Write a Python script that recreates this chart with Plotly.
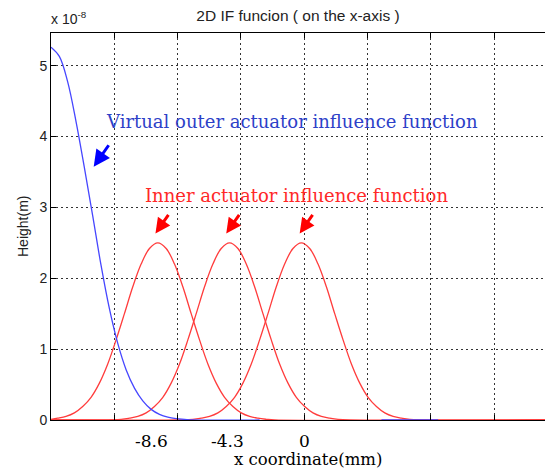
import plotly.graph_objects as go

# ---------------- data ----------------
# x in mm, height in units of 1e-8 m
red1_x = [-15.0, -14.6, -14.1, -13.6, -13.1, -12.6, -12.1, -11.6, -11.1, -10.6, -10.1, -9.6, -9.1,
          -8.6, -8.1, -7.6, -7.1, -6.6, -6.1, -5.6, -5.1, -4.6, -4.1, -3.6, -3.1, -2.6, -2.1, -1.6, 14.6]
red1_y = [0.01, 0.025, 0.05, 0.10, 0.19, 0.32, 0.52, 0.79, 1.13, 1.50, 1.88, 2.20, 2.42,
          2.50, 2.42, 2.20, 1.88, 1.50, 1.13, 0.79, 0.52, 0.32, 0.19, 0.10, 0.05, 0.025, 0.01, 0.0, 0.0]

red2_x = [-15.0, -10.8, -10.3, -9.8, -9.3, -8.8, -8.3, -7.8, -7.3, -6.8, -6.3, -5.8, -5.3, -4.8,
          -4.3, -3.8, -3.3, -2.8, -2.3, -1.8, -1.3, -0.8, -0.3, 0.2, 0.7, 1.2, 1.7, 2.2, 14.6]
red2_y = [0.0, 0.01, 0.025, 0.05, 0.10, 0.19, 0.32, 0.52, 0.79, 1.13, 1.50, 1.88, 2.20, 2.42,
          2.50, 2.42, 2.20, 1.88, 1.50, 1.13, 0.79, 0.52, 0.32, 0.19, 0.10, 0.05, 0.025, 0.01, 0.0]

red3_x = [-15.0, -6.5, -6.0, -5.5, -5.0, -4.5, -4.0, -3.5, -3.0, -2.5, -2.0, -1.5, -1.0, -0.5,
          0.0, 0.5, 1.0, 1.5, 2.0, 2.5, 3.0, 3.5, 4.0, 4.5, 5.0, 5.5, 6.0, 6.5, 14.6]
red3_y = [0.0, 0.01, 0.025, 0.05, 0.10, 0.19, 0.32, 0.52, 0.79, 1.13, 1.50, 1.88, 2.20, 2.42,
          2.50, 2.42, 2.20, 1.88, 1.50, 1.13, 0.79, 0.52, 0.32, 0.19, 0.10, 0.05, 0.025, 0.01, 0.0]

blue_x = [-15.0, -14.5, -14.0, -13.5, -13.0, -12.5, -12.0, -11.5, -11.0, -10.5, -10.0, -9.5,
          -9.0, -8.5, -8.0, -7.5, -7.0, -6.5, -2.5, None, 4.8, 8.2]
blue_y = [5.26, 5.13, 4.77, 4.21, 3.56, 2.88, 2.18, 1.57, 1.08, 0.71, 0.45, 0.27,
          0.15, 0.08, 0.04, 0.02, 0.01, 0.0, 0.0, None, 0.0, 0.0]

tick_labels = ["-8.6", "-4.3", "0"]
tick_label_pos = [-8.98, -4.42, 0.2]

red_arrow_tips_x = [-8.74, -4.5, -0.1]
red_arrow_tip_y = 2.633
blue_arrow_tip = (-12.44, 3.573)

RED = "rgb(255,60,60)"
BLUE = "rgb(70,70,255)"

fig = go.Figure()
for xs, ys in [(red1_x, red1_y), (red2_x, red2_y), (red3_x, red3_y)]:
    fig.add_trace(go.Scatter(x=xs, y=ys, mode="lines",
                             line=dict(color=RED, width=1.3, shape="spline", smoothing=1.0),
                             showlegend=False, hoverinfo="skip"))
fig.add_trace(go.Scatter(x=blue_x, y=blue_y, mode="lines",
                         line=dict(color=BLUE, width=1.3, shape="spline", smoothing=1.0),
                         showlegend=False, hoverinfo="skip", connectgaps=False))

annotations = []
serif = "DejaVu Serif"
sans = "Liberation Sans"

annotations.append(dict(x=-11.8, y=4.21, xref="x", yref="y", xanchor="left", yanchor="middle",
                        text="Virtual outer actuator influence function", showarrow=False,
                        font=dict(family=serif, size=18, color="rgb(45,65,200)")))
annotations.append(dict(x=-9.5, y=3.17, xref="x", yref="y", xanchor="left", yanchor="middle",
                        text="Inner actuator influence function", showarrow=False,
                        font=dict(family=serif, size=18, color="rgb(255,40,40)")))

annotations.append(dict(x=blue_arrow_tip[0], y=blue_arrow_tip[1], xref="x", yref="y", text="",
                        showarrow=True, ax=16, ay=-23, arrowhead=2, arrowsize=1.1,
                        arrowwidth=3, arrowcolor="rgb(0,0,255)", standoff=0))
for tx in red_arrow_tips_x:
    annotations.append(dict(x=tx, y=red_arrow_tip_y, xref="x", yref="y", text="",
                            showarrow=True, ax=14, ay=-20, arrowhead=2, arrowsize=1.0,
                            arrowwidth=3, arrowcolor="rgb(255,0,0)", standoff=0))

for lbl, pos in zip(tick_labels, tick_label_pos):
    annotations.append(dict(x=pos, y=0, xref="x", yref="paper", yshift=-21, text=lbl,
                            showarrow=False, xanchor="center", yanchor="middle",
                            font=dict(family=serif, size=17, color="black")))

annotations.append(dict(x=0.52, y=0, xref="paper", yref="paper", yshift=-39,
                        text="x coordinate(mm)", showarrow=False, xanchor="center", yanchor="middle",
                        font=dict(family=serif, size=16.5, color="black")))
annotations.append(dict(x=-0.0577, y=0.5, xref="paper", yref="paper", text="Height(m)",
                        textangle=-90, showarrow=False, xanchor="center", yanchor="middle",
                        font=dict(family=sans, size=14, color="#222")))
annotations.append(dict(x=0, y=1, xref="paper", yref="paper", xshift=-2, yshift=4,
                        text="x 10<sup>-8</sup>", showarrow=False, xanchor="left", yanchor="bottom",
                        font=dict(family=sans, size=14, color="#222")))

fig.update_layout(
    width=545, height=468,
    margin=dict(l=51, r=0, t=33, b=48, pad=0),
    paper_bgcolor="white", plot_bgcolor="white",
    title=dict(text="2D IF funcion ( on the x-axis )", x=0.5, xref="paper",
               y=(468 - 15.6) / 468, yref="container", yanchor="middle", xanchor="center",
               font=dict(family=sans, size=15.5, color="#222")),
    annotations=annotations,
    showlegend=False,
)
fig.update_xaxes(range=[-15.0, 14.6], tick0=-15.0, dtick=3.793, showticklabels=False,
                 ticks="inside", ticklen=5, tickcolor="black", showline=True, linecolor="black",
                 linewidth=1, mirror="ticks", showgrid=True, gridcolor="#333", griddash="2px,3px",
                 gridwidth=1, zeroline=False)
fig.update_yaxes(range=[0, 5.46], tick0=0, dtick=1, ticks="inside", ticklen=5, tickcolor="black",
                 showline=True, linecolor="black", linewidth=1, showgrid=True, gridcolor="#333",
                 griddash="2px,3px", gridwidth=1, zeroline=False,
                 tickfont=dict(family=sans, size=14, color="#222"))

fig.write_html("out.html", config={"displayModeBar": False},
               post_script="document.body.style.margin='0';document.body.style.padding='0';")
